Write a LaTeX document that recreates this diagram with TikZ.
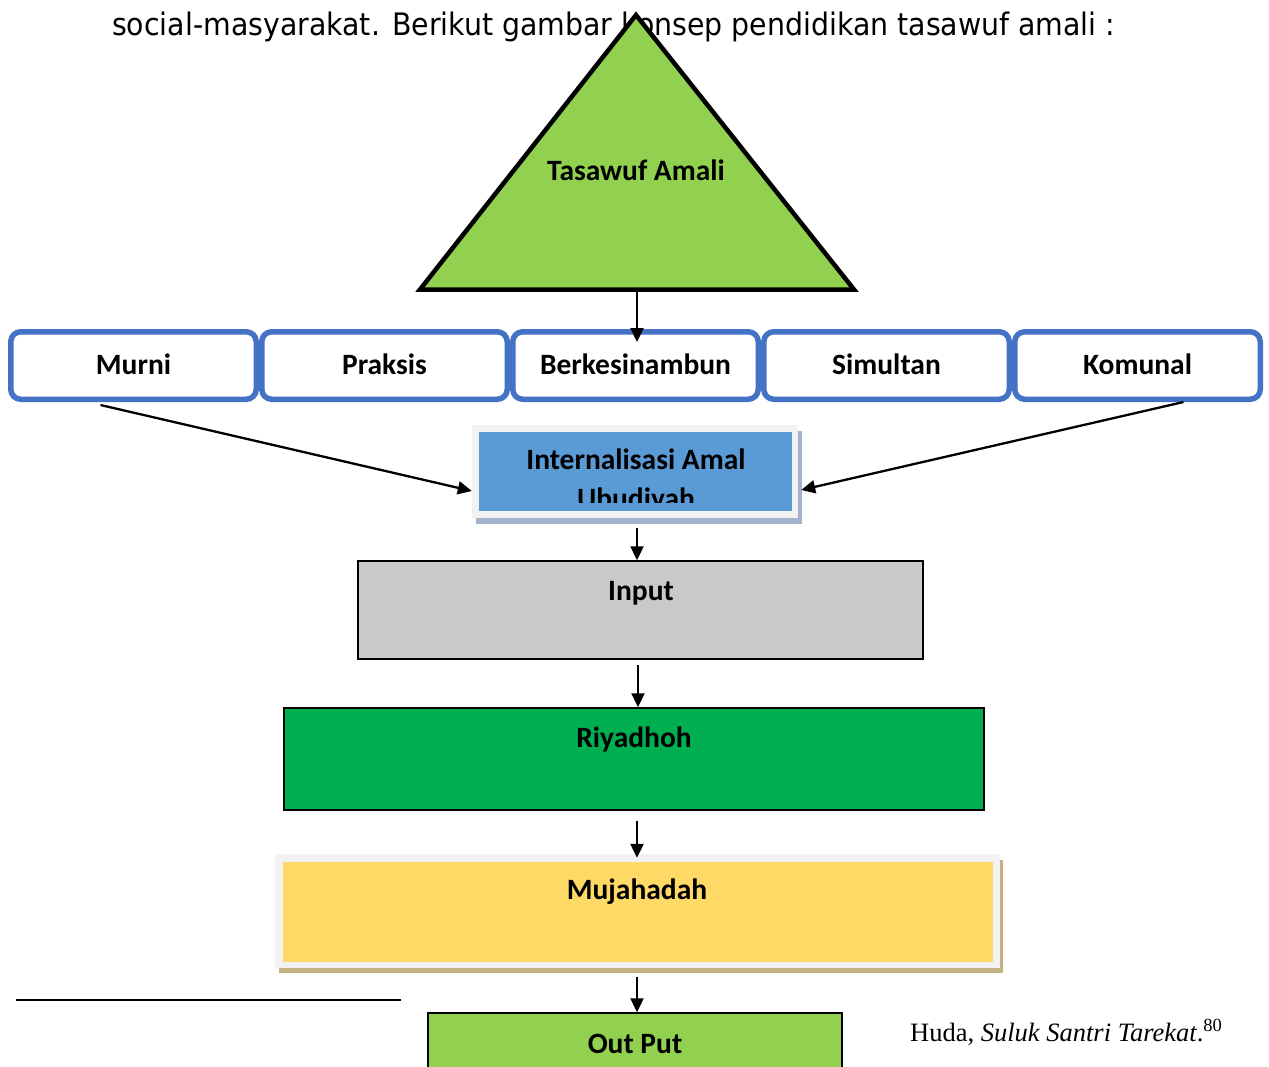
\documentclass[tikz,border=0pt]{standalone}
\usepackage{fontspec}
\setmainfont{Carlito}
\newfontfamily\hdrfont{DejaVu Sans}
\newfontfamily\fnfont{Liberation Serif}
\usetikzlibrary{arrows.meta}
\definecolor{trigreen}{HTML}{92D050}
\definecolor{boxblue}{HTML}{4472C4}
\definecolor{intblue}{HTML}{5B9BD5}
\definecolor{intshadow}{HTML}{A3B3CC}
\definecolor{outergray}{HTML}{F2F2F2}
\definecolor{inputgray}{HTML}{C9C9C9}
\definecolor{riygreen}{HTML}{00B050}
\definecolor{mujyellow}{HTML}{FFD966}
\definecolor{mujshadow}{HTML}{C4B283}
\tikzset{
  lbl/.style={font=\fontsize{29.5}{31}\selectfont\bfseries, text=black},
  critbox/.style={draw=boxblue, line width=5.5pt, rounded corners=10pt, fill=white,
    minimum width=245.5pt, minimum height=67.5pt, inner sep=0pt,
    text height=18pt, text depth=0pt, lbl},
  flowbox/.style={draw=black, line width=1.5pt, inner sep=0pt},
  arr/.style={line width=2.3pt, -{Triangle[length=14pt,width=13pt]}},
}
\begin{document}
\begin{tikzpicture}[x=1pt,y=-1pt]
\useasboundingbox (0,0) rectangle (1269,1066);
% header text
\node[anchor=base west, inner sep=0pt] (hdr) at (112,35)
  {\resizebox{1003pt}{\height}{\hdrfont\fontsize{31}{33}\selectfont social-masyarakat. Berikut gambar konsep pendidikan tasawuf amali :}};
% triangle
\coordinate (apex) at (636,15);
\coordinate (bl) at (420,289.5);
\coordinate (br) at (854,289.5);
\coordinate (tribase) at (637,289.5);
\draw[fill=trigreen, draw=black, line width=4.5pt, line join=miter] (apex) -- (bl) -- (br) -- cycle;
\node[lbl, anchor=base] (tri) at (636,180) {Tasawuf Amali};
% criteria boxes
\node[critbox] (murni) at (133.5,365.5) {Murni};
\node[critbox] (praksis) at (384.5,365.5) {Praksis};
\node[critbox] (berk) at (635.5,365.5) {Berkesinambun};
\node[critbox] (simultan) at (886.5,365.5) {Simultan};
\node[critbox] (komunal) at (1137.5,365.5) {Komunal};
\path (tribase |- berk.north) coordinate (berktop);
% internalisasi box
\fill[intshadow] (476,431) rectangle (802,524);
\node[fill=outergray, minimum width=326pt, minimum height=93pt, inner sep=0pt] (intern) at (635,471.5) {};
\fill[intblue] (479,432) rectangle (792,511);
\begin{scope}
  \clip (479,432) rectangle (792,502);
  \node[lbl, anchor=base] (int1) at (636,469) {Internalisasi Amal};
  \node[lbl, anchor=base] (int2) at (636,508) {Ubudiyah};
\end{scope}
% input
\node[flowbox, fill=inputgray, minimum width=565pt, minimum height=98pt] (input) at (640.5,610) {};
\node[lbl, anchor=base] (inputlbl) at (641,600) {Input};
% riyadhoh
\node[flowbox, fill=riygreen, minimum width=700pt, minimum height=102pt] (riy) at (634,759) {};
\node[lbl, anchor=base] (riylbl) at (634,747) {Riyadhoh};
% mujahadah
\fill[mujshadow] (279,860) rectangle (1003,973);
\node[fill=outergray, minimum width=725pt, minimum height=114pt, inner sep=0pt] (muj) at (637.5,911) {};
\fill[mujyellow] (283,862) rectangle (993,962);
\node[lbl, anchor=base] (mujlbl) at (637,899) {Mujahadah};
% out put
\node[flowbox, fill=trigreen, minimum width=414pt, minimum height=70pt] (out) at (635,1048) {};
\node[lbl, anchor=base] (outlbl) at (635,1053) {Out Put};
% connectors
\draw[arr] (tribase) -- ([yshift=-13pt]berktop);
\draw[arr] ([xshift=-33pt,yshift=-3pt]murni.south) -- ([yshift=-19.5pt]intern.west);
\draw[arr] ([xshift=46pt]komunal.south) -- ([xshift=3pt,yshift=-18.5pt]intern.east);
\draw[arr] ([xshift=2pt,yshift=-10pt]intern.south) -- ([xshift=-3.5pt]input.north);
\draw[arr] ([xshift=-2.5pt,yshift=-5pt]input.south) -- ([xshift=4pt]riy.north);
\draw[arr] ([xshift=3pt,yshift=-10pt]riy.south) -- ([xshift=-0.5pt,yshift=-4pt]muj.north);
\draw[arr] ([xshift=-0.5pt,yshift=-9pt]muj.south) -- ([xshift=2pt]out.north);
% footnote rule and text
\coordinate (rulel) at (16,1000);
\coordinate (ruler) at (401,1000);
\draw[line width=1.5pt] (rulel) -- (ruler);
\node[anchor=base west, inner sep=0pt, font=\fnfont\fontsize{26.5}{28}\selectfont] (fn) at (910,1041)
  {Huda, \textit{Suluk Santri Tarekat}.\textsuperscript{80}};
\end{tikzpicture}
\end{document}
